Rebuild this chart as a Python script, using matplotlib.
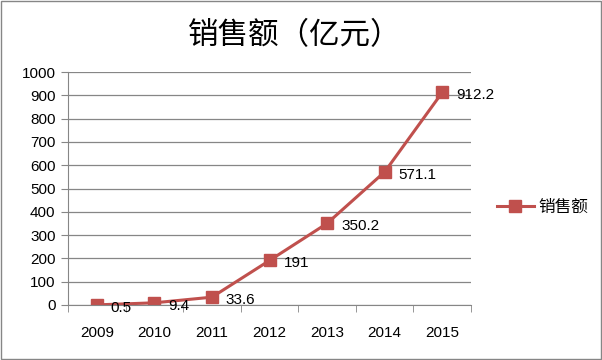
import matplotlib
matplotlib.use("Agg")
import matplotlib.pyplot as plt
from matplotlib.patches import Rectangle

plt.rcParams['font.family'] = ['Liberation Sans', 'Noto Sans CJK SC', 'DejaVu Sans']

years = ['2009', '2010', '2011', '2012', '2013', '2014', '2015']
sales = [0.5, 9.4, 33.6, 191, 350.2, 571.1, 912.2]
labels = ['0.5', '9.4', '33.6', '191', '350.2', '571.1', '912.2']
yticks = [0, 100, 200, 300, 400, 500, 600, 700, 800, 900, 1000]
color = '#C0504D'

fig = plt.figure(figsize=(6.02, 3.6), dpi=100)
ax = fig.add_axes([68/602, 1 - 305/360, (471-68)/602, (305-72)/360])

x = list(range(len(years)))
ax.plot(x, sales, color=color, lw=2.2, marker='s', markersize=9,
        markerfacecolor=color, markeredgecolor=color, label='销售额')
for xi, yi, lab in zip(x, sales, labels):
    ax.annotate(lab, (xi, yi), xytext=(10, -2), textcoords='offset points',
                ha='left', va='center', fontsize=11)

ax.set_xlim(-0.5, len(years) - 0.5)
ax.set_ylim(0, 1000)
ax.set_yticks(yticks)
ax.set_yticklabels([str(t) for t in yticks], fontsize=11)
ax.set_xticks(x)
ax.set_xticklabels(years, fontsize=11)
ax.set_xticks([i - 0.5 for i in range(len(years) + 1)], minor=True)
ax.tick_params(axis='x', which='major', length=0, pad=15)
ax.tick_params(axis='x', which='minor', length=5, color='#868686')
ax.tick_params(axis='y', length=5, color='#868686', pad=4)
ax.grid(axis='y', color='#868686', lw=0.9)
ax.set_axisbelow(True)
for s in ['top', 'right']:
    ax.spines[s].set_visible(False)
for s in ['left', 'bottom']:
    ax.spines[s].set_color('#868686')

fig.text(295/602, 1 - 36/360, '销售额（亿元）', ha='center', va='center', fontsize=22)

leg = fig.legend(loc='center left', bbox_to_anchor=(482/602, 1 - 207/360), frameon=False,
                 fontsize=12, handlelength=2.2, handletextpad=0.3)

fig.add_artist(Rectangle((0.002, 0.002), 0.996, 0.996, transform=fig.transFigure,
                         fill=False, edgecolor='#868686', lw=1))

fig.savefig('out.png', dpi=100)
